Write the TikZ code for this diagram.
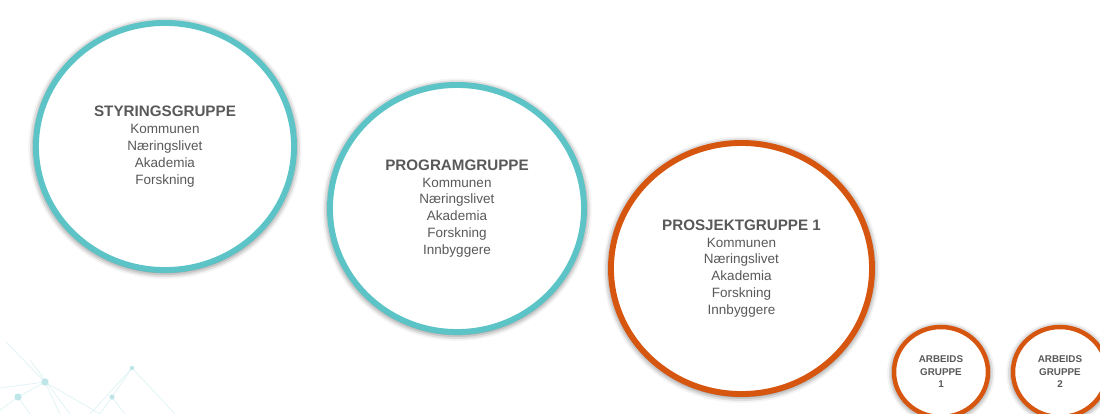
\documentclass[tikz,border=0pt]{standalone}
\usepackage{fontspec}
\setmainfont{Liberation Sans}
\usetikzlibrary{shapes.geometric,shadows.blur}

\definecolor{turkis}{RGB}{92,196,198}
\definecolor{oransje}{RGB}{214,86,16}
\definecolor{tekstgraa}{RGB}{89,89,89}
\definecolor{nettlinje}{RGB}{222,242,244}
\definecolor{nettprikk}{RGB}{190,230,232}

\newcommand{\gruppe}[2]{{\bfseries\fontsize{10.8}{12}\selectfont #1}\\#2}

\tikzset{
  ring/.style={ellipse, fill=white, text=tekstgraa, align=center,
    blur shadow={shadow xshift=0pt, shadow yshift=-0.8pt,
      shadow blur radius=4.5pt, shadow opacity=70, shadow scale=1.01},
    font=\fontsize{9.6}{12}\selectfont},
  storring/.style={ring, line width=4.2pt},
  turkisring/.style={storring, draw=turkis},
  oransjering/.style={storring, draw=oransje},
  smaaring/.style={ring, draw=oransje, line width=3.2pt,
    minimum width=2.35cm, minimum height=2.25cm,
    font=\bfseries\fontsize{7}{8.9}\selectfont},
  nett/.style={draw=nettlinje, line width=0.5pt},
  prikk/.style={fill=nettprikk}
}

\begin{document}
\begin{tikzpicture}[x=0.025cm, y=-0.025cm]
			%%%%% ramme %%%%%
			\useasboundingbox (0, 0) rectangle (1100, 414);
			\clip (0, 0) rectangle (1100, 414);
			
			%%%%% nettverk nede til venstre %%%%%
			\draw[nett] (6, 342) -- (45, 382) -- (100, 414);
			\draw[nett] (45, 382) -- (18, 397) -- (0, 410);
			\draw[nett] (45, 382) -- (60, 414);
			\draw[nett] (0, 388) -- (45, 382);
			\draw[nett] (18, 397) -- (30, 414);
			\draw[nett] (30, 360) -- (70, 414);
			\draw[nett] (132, 368) -- (112, 397) -- (100, 414);
			\draw[nett] (132, 368) -- (175, 414);
			\draw[nett] (132, 368) -- (90, 414);
			\draw[nett] (112, 397) -- (125, 414);
			\fill[prikk] (45, 382) circle (3.6);
			\fill[prikk] (18, 397) circle (3.6);
			\fill[prikk] (112, 397) circle (2.6);
			\fill[prikk] (132, 368) circle (2.2);
			
			%%%%% grupper %%%%%
			\node[turkisring, minimum width=6.45cm, minimum height=6.175cm]
				(styring) at (165, 146.5)
				{\gruppe{STYRINGSGRUPPE}{Kommunen\\Næringslivet\\Akademia\\Forskning}};
			
			\node[turkisring, minimum width=6.35cm, minimum height=6.175cm]
				(program) at (457, 208.5)
				{\gruppe{PROGRAMGRUPPE}{Kommunen\\Næringslivet\\Akademia\\Forskning\\Innbyggere}};
			
			\node[oransjering, minimum width=6.525cm, minimum height=6.275cm]
				(prosjekt) at (741.5, 268.5)
				{\gruppe{PROSJEKTGRUPPE 1}{Kommunen\\Næringslivet\\Akademia\\Forskning\\Innbyggere}};
			
			\node[smaaring] (arbeid1) at (941, 372) {ARBEIDS\\GRUPPE\\1};
			\node[smaaring] (arbeid2) at (1060, 372) {ARBEIDS\\GRUPPE\\2};
			
		\end{tikzpicture}
\end{document}
